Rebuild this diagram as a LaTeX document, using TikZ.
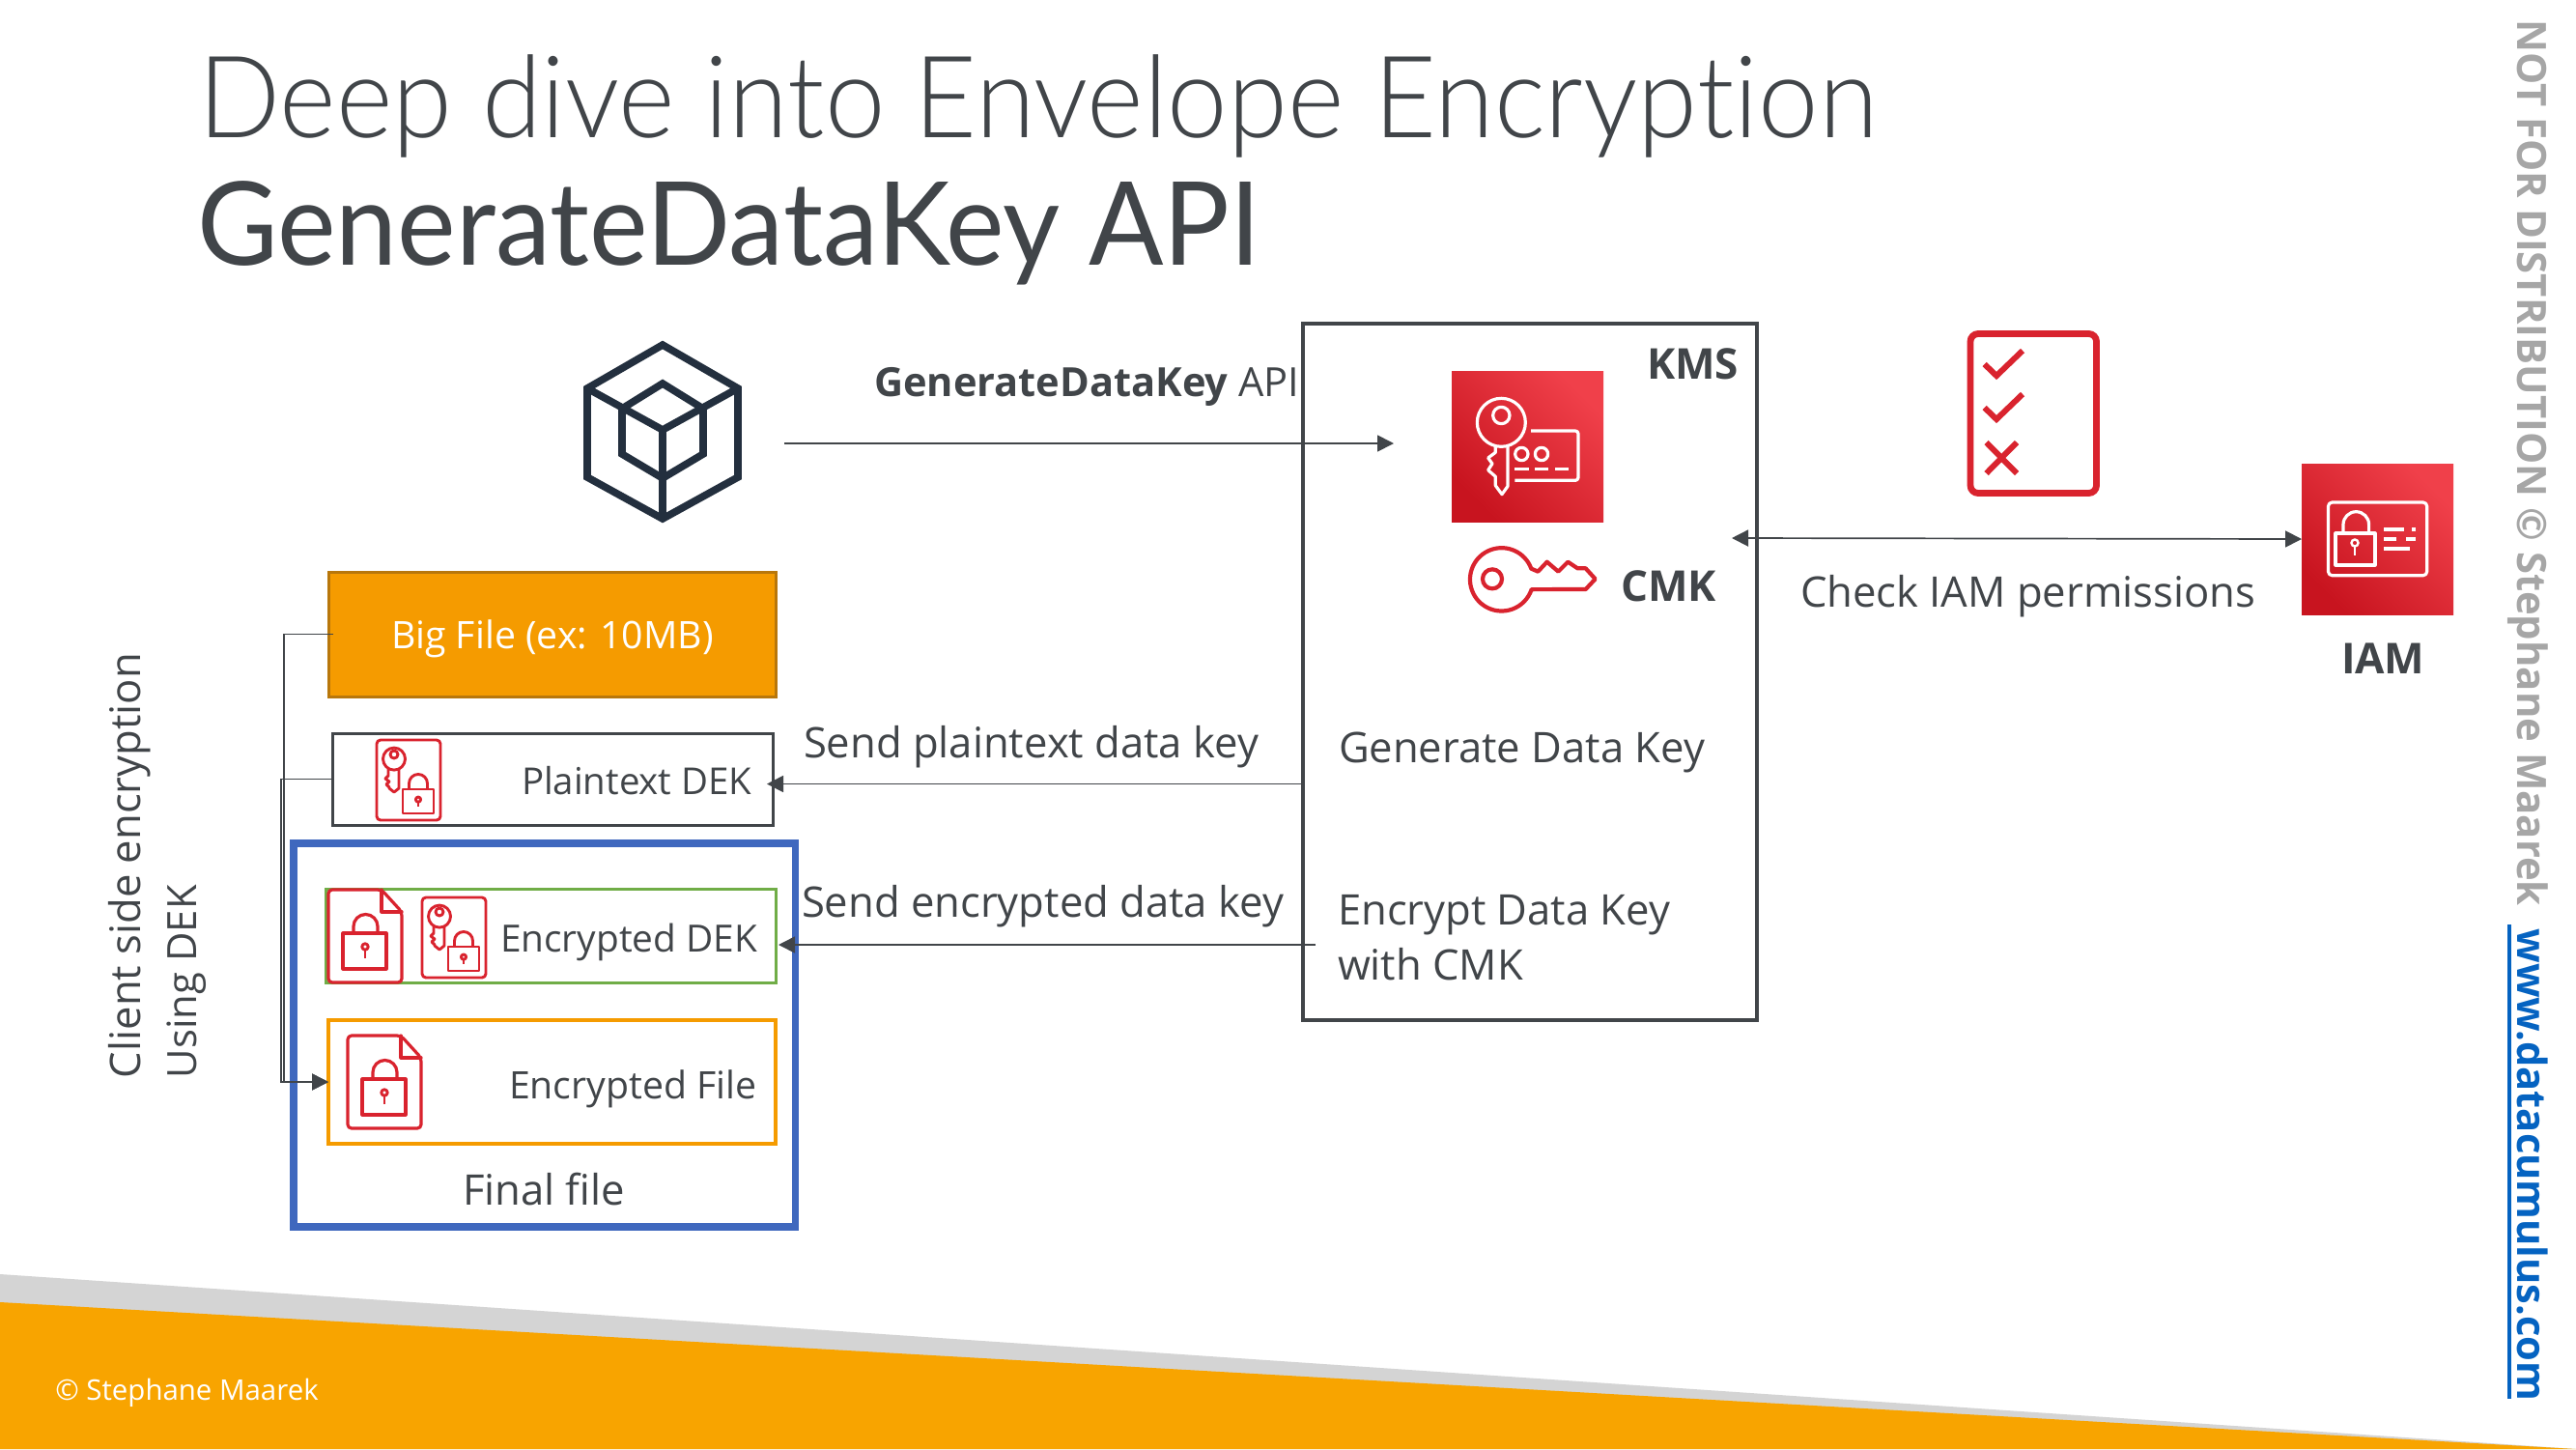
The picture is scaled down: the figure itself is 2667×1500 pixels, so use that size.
\documentclass[tikz,border=0pt]{standalone}
\usepackage{fontspec}
\usetikzlibrary{arrows.meta,fit,calc}
\setmainfont{Open Sans}
\newfontfamily\titlelight{Lato Light}[FakeStretch=0.95,Ligatures=NoCommon]
\newfontfamily\titlereg{Lato}[FakeStretch=0.955,Ligatures=NoCommon]
\definecolor{ink}{HTML}{414549}
\definecolor{awsred}{HTML}{D9232E}
\definecolor{fileorange}{HTML}{F59B00}
\definecolor{filedark}{HTML}{B8770B}
\definecolor{bluebox}{HTML}{3F68BE}
\definecolor{greenbox}{HTML}{70AD47}
\definecolor{footorange}{HTML}{F8A400}
\definecolor{footgrey}{HTML}{D4D4D4}
\definecolor{navy}{HTML}{232F3E}
\definecolor{sidegrey}{HTML}{A6A6A6}
\definecolor{sideblue}{HTML}{0563C1}
\definecolor{iconlo}{HTML}{C8141F}
\definecolor{iconhi}{HTML}{F0404A}
\newcommand\fsz[1]{\fontsize{#1}{#1}\selectfont}
\tikzset{
  label text/.style={anchor=base west,inner sep=0pt,outer sep=0pt,text=ink,font=\fsz{21.8}},
  small text/.style={label text,font=\fsz{19.4}},
  boxfit/.style={inner sep=0pt,outer sep=0pt,rectangle},
  conn/.style={draw=ink,line width=0.85pt,-{Triangle[length=8.5pt,width=8.5pt]}},
  connb/.style={draw=ink,line width=0.85pt,{Triangle[length=8.5pt,width=8.5pt]}-{Triangle[length=8.5pt,width=8.5pt]}},
  redline/.style={draw=awsred,line width=1.6pt,line join=round,line cap=round},
  redthin/.style={draw=awsred,line width=1.45pt,line join=round},
  whiteline/.style={draw=white,line width=1.6pt,line join=round},
  awsicon/.style={boxfit,shade,bottom color=iconlo,top color=iconhi,shading angle=-45},
}
% key + lock document, local px box 66x83
\newcommand\keylock[2]{\begin{scope}[shift={(#1,#2)}]
  \draw[redthin,rounded corners=2pt] (0,0) rectangle (66,83);
  \draw[redthin] (18,19.6) circle [radius=11.5];
  \draw[redthin] (18,15) circle [radius=4];
  \draw[redthin] (12,30) -- (12,37) -- (9,40) -- (13,43) -- (10,46) -- (13,49) -- (13,50) -- (18,54) -- (23,50) -- (23,30);
  \draw[redthin] (27,51) rectangle (59,76);
  \draw[redthin] (33.5,51) -- (33.5,45) arc [start angle=180,end angle=360,radius=9.5] -- (52.5,51);
  \draw[redthin] (43,61.6) circle [radius=2.6];
  \draw[redthin] (43,64) -- (43,69);
\end{scope}}
% locked file, local px box 76x96
\newcommand\lockfile[2]{\begin{scope}[shift={(#1,#2)}]
  \draw[redline,rounded corners=2pt] (0,0) -- (55,0) -- (76,23) -- (76,96) -- (0,96) -- cycle;
  \draw[redline] (55,0) -- (55,23) -- (76,23);
  \draw[redline] (15,45) rectangle (60,82);
  \draw[redline] (26,45) -- (26,38) arc [start angle=180,end angle=360,radius=12.5] -- (51,45);
  \draw[redthin] (38,59) circle [radius=3.2];
  \draw[redthin] (38,62) -- (38,71);
\end{scope}}
\begin{document}
\begin{tikzpicture}[x=0.5pt,y=-0.5pt]
\useasboundingbox (0,0) rectangle (2667,1500);
\fill[white] (0,0) rectangle (2667,1500);
% footer
\fill[footgrey] (0,1319) -- (2667,1500) -- (0,1500) -- cycle;
\fill[footorange] (0,1348) -- (2667,1500) -- (0,1500) -- cycle;
\node[anchor=base west,inner sep=0pt,text=white,font=\fsz{14.7}] (copyr) at (57,1449) {© Stephane Maarek};
% title
\node[anchor=base west,inner sep=0pt,text=ink,font=\titlelight\fsz{59}] (t1) at (205,142) {Deep dive into Envelope Encryption};
\node[anchor=base west,inner sep=0pt,text=ink,font=\titlereg\fsz{60}] (t2) at (204,274) {GenerateDataKey API};
% sidebar
\node[rotate=-90,anchor=base west,inner sep=0pt,text=sidegrey,font=\bfseries\fsz{20.9}] (side1) at (2606,20) {NOT FOR DISTRIBUTION © Stephane Maarek};
\node[rotate=-90,anchor=base west,inner sep=0pt,text=sideblue,font=\bfseries\fsz{20.8}] (side2) at (2606,961) {www.datacumulus.com};
\fill[sideblue] (2596,957) rectangle (2600,1448);
% SDK cube
\begin{scope}[line width=3.8pt,line join=miter]
  \draw[navy] (686,357) -- (764,402) -- (764,494) -- (686,537) -- (608,494) -- (608,402) -- cycle;
  \draw[navy] (608,402) -- (686,445) -- (764,402);
  \draw[navy] (686,445) -- (686,537);
  \draw[navy] (644,423) -- (686,397) -- (728,423) -- (728,470) -- (686,495) -- (644,470) -- cycle;
\end{scope}
\coordinate (cubeout) at (812,459);
\coordinate (kmsin) at (1443,459);
% KMS
\node[boxfit,draw=ink,line width=2pt,fit={(1349,335)(1819,1056)}] (kms) {};
\node[label text,font=\bfseries\fsz{22}] (kmsl) at (1705,392.5) {KMS};
\node[awsicon,fit={(1503,384)(1660,540)}] (kmsicon) {};
\begin{scope}[shift={(1340,320)},scale=1/3]
  \draw[whiteline] (643,352) circle [radius=75];
  \draw[whiteline] (643,330) circle [radius=26];
  \draw[whiteline] (625,425) -- (625,445) -- (602,462) -- (615,480) -- (602,500) -- (625,520) -- (625,548) -- (645,575) -- (663,550) -- (663,425);
  \draw[whiteline,rounded corners=1.5pt] (735,378) -- (882,378) -- (882,532) -- (685,532);
  \draw[whiteline] (706,450) circle [radius=20];
  \draw[whiteline] (768,450) circle [radius=20];
  \draw[whiteline] (685,497) -- (728,497) (748,497) -- (790,497) (810,497) -- (852,497);
  % CMK key
  \draw[draw=awsred,line width=2.1pt,line join=round] (736,806) arc [start angle=-20,end angle=-341.6,radius=98] -- (905,870) -- (935,838) -- (905,805) -- (880,805) -- (850,785) -- (820,815) -- (785,785) -- (757,815) -- cycle;
  \draw[draw=awsred,line width=2.1pt] (615,838) circle [radius=30];
\end{scope}
\node[label text,font=\bfseries\fsz{22}] (cmkl) at (1678,622) {CMK};
\node[label text] (gdk) at (1386,789) {Generate Data Key};
\node[label text] (edk1) at (1385,957) {Encrypt Data Key};
\node[label text] (edk2) at (1385,1014) {with CMK};
% checklist
\draw[draw=awsred,line width=3.4pt,rounded corners=4pt] (2040,345.5) rectangle (2170.5,510.5);
\draw[draw=awsred,line width=3pt] (2054.6,377) -- (2067,389) -- (2094,363);
\draw[draw=awsred,line width=3pt] (2054.6,422) -- (2067,434) -- (2094,408);
\draw[draw=awsred,line width=3pt] (2056.5,458) -- (2088,490) (2088,458) -- (2056.5,490);
% IAM
\node[awsicon,fit={(2383,480)(2540,636)}] (iam) {};
\draw[whiteline,rounded corners=2pt] (2410.5,520) rectangle (2512.7,595.7);
\draw[whiteline] (2418,552) rectangle (2459,585);
\draw[whiteline] (2426,552) -- (2426,543) arc [start angle=180,end angle=360,radius=13.3] -- (2452.6,552);
\draw[white,line width=1.2pt] (2438,562) circle [radius=3.5];
\draw[white,line width=1.2pt] (2438,565) -- (2438,575);
\draw[whiteline] (2468,548) -- (2489,548) (2497,548) -- (2501,548) (2468,558) -- (2481,558) (2491,558) -- (2501,558) (2468,568) -- (2495,568);
\node[label text,font=\bfseries\fsz{22}] (iaml) at (2424,697) {IAM};
\coordinate (kmsport) at (1793,557);
\draw[connb] (kmsport) -- (iam.west);
\node[label text] (chk) at (1864,628) {Check IAM permissions};
% API label and arrow
\node[label text,font=\fsz{20.8}] (apil) at (905,410) {\textbf{GenerateDataKey} API};
\draw[conn] (cubeout) -- (kmsin);
% left boxes
\node[boxfit,draw=filedark,fill=fileorange,line width=1.5pt,fit={(340,592)(803,721)}] (bigfile) {};
\node[small text,text=white,font=\fsz{19.6}] (bigl) at (405,671.5) {Big File (ex: 10MB)};
\node[boxfit,draw=ink,line width=1.5pt,fit={(344,759)(800,854)}] (plain) {};
\keylock{390}{766}
\node[small text,font=\fsz{19.2}] (plainl) at (540,822) {Plaintext DEK};
\node[boxfit,draw=bluebox,line width=3.7pt,fit={(304,873)(823.5,1270)}] (final) {};
\node[boxfit,draw=greenbox,line width=1.5pt,fit={(337,920.5)(803,1017)}] (encdek) {};
\lockfile{340}{921}
\keylock{437}{929}
\node[small text] (encdekl) at (518,985) {Encrypted DEK};
\node[boxfit,draw=fileorange,line width=1.6pt,fit={(340,1056)(803,1184)}] (encfile) {};
\lockfile{360}{1072}
\node[small text,font=\fsz{19.6}] (encfilel) at (527,1137) {Encrypted File};
\node[label text] (finall) at (479,1247) {Final file};
% connectors
\coordinate (busa) at (294,1120);
\coordinate (busb) at (291,1120);
\draw[conn] ($(bigfile.west)+(5,0)$) -| (busa) -- (encfile.west);
\draw[conn] (plain.west) -| (busb) -- (encfile.west);
\coordinate (plainport) at (1349,811.5);
\coordinate (plaintip) at (794,811.5);
\coordinate (encstart) at (1362,978);
\coordinate (enctip) at (806,978);
\draw[conn] (plainport) -- (plaintip);
\draw[conn] (encstart) -- (enctip);
\node[label text] (sendp) at (832,784) {Send plaintext data key};
\node[label text] (sende) at (830,949) {Send encrypted data key};
% rotated left labels
\node[rotate=90,label text] (cs1) at (145,1116) {Client side encryption};
\node[rotate=90,label text,font=\fsz{20.9}] (cs2) at (203,1116) {Using DEK};
\end{tikzpicture}
\end{document}
